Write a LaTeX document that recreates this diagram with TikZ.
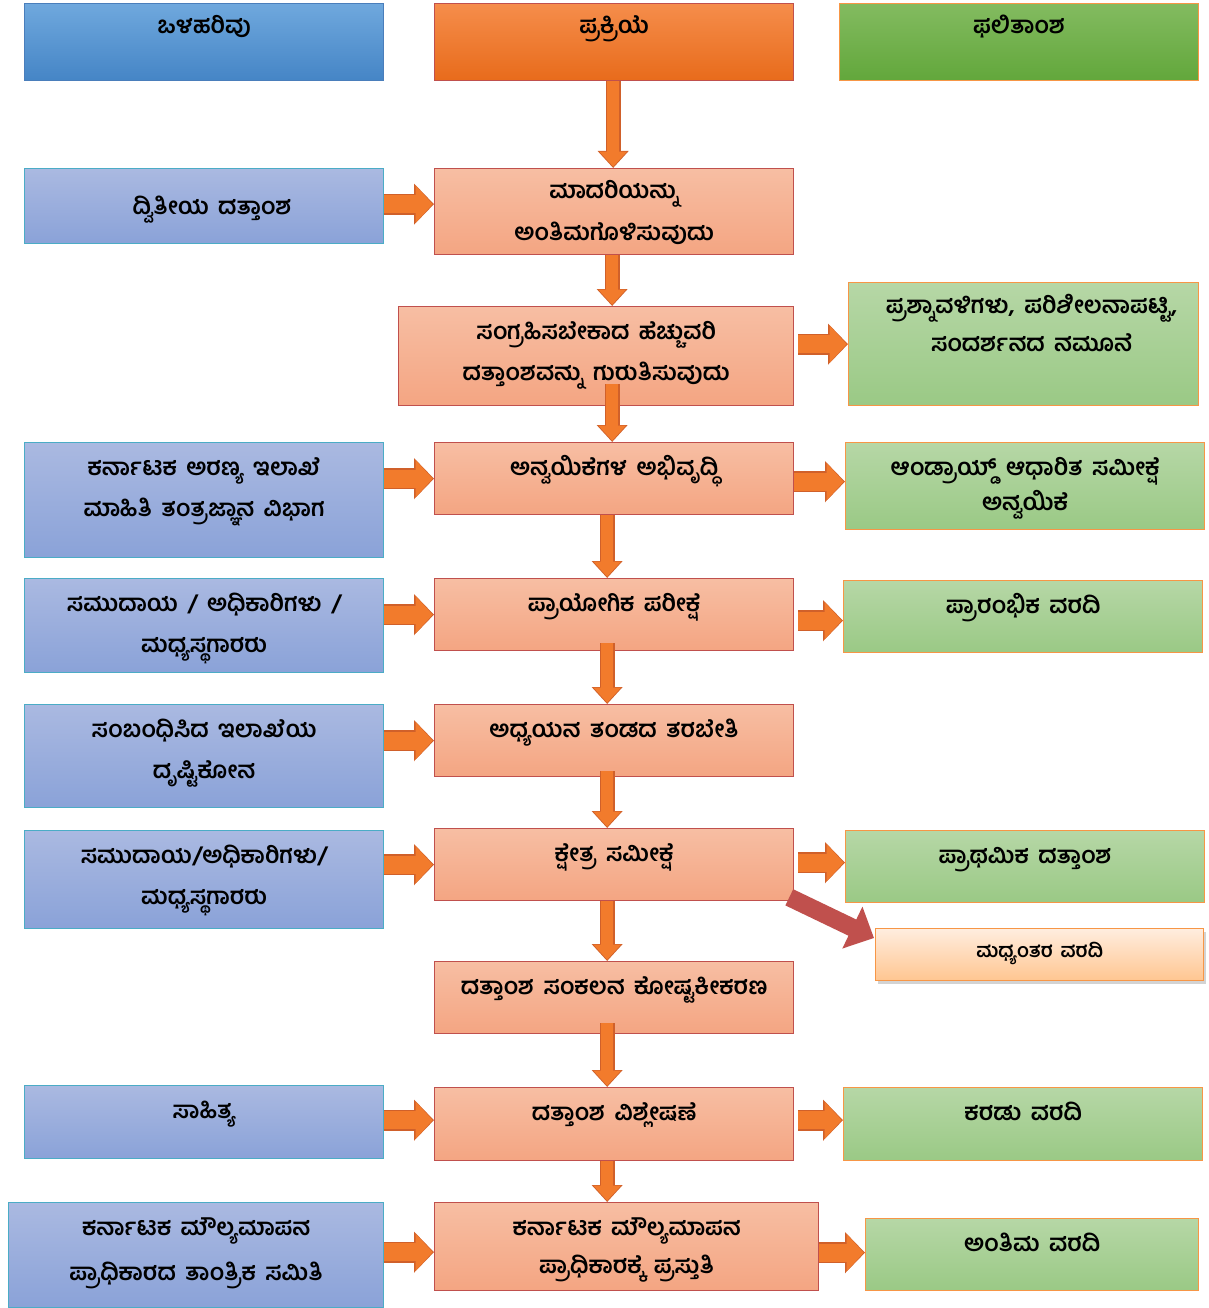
\documentclass[tikz,border=0pt]{standalone}
\usepackage{fontspec}
\newfontfamily\kn[Script=Kannada,WordSpace=1.6]{Hind Mysuru}
\usetikzlibrary{arrows.meta,calc,shadows}
\definecolor{hbA}{HTML}{6FA8DD}
\definecolor{hbB}{HTML}{4585C6}
\definecolor{hbL}{HTML}{4A7EBB}
\definecolor{hoA}{HTML}{F58D4B}
\definecolor{hoB}{HTML}{E86B1B}
\definecolor{hoL}{HTML}{C0504D}
\definecolor{hgA}{HTML}{83BB60}
\definecolor{hgB}{HTML}{62A73B}
\definecolor{hgL}{HTML}{F79646}
\definecolor{lbA}{HTML}{AAB9E1}
\definecolor{lbB}{HTML}{8AA2D8}
\definecolor{lbL}{HTML}{4BACC6}
\definecolor{csA}{HTML}{F7BEA3}
\definecolor{csB}{HTML}{F4A582}
\definecolor{csL}{HTML}{C0504D}
\definecolor{rgA}{HTML}{B6D7A6}
\definecolor{rgB}{HTML}{9AC985}
\definecolor{rgL}{HTML}{F79646}
\definecolor{mpA}{HTML}{FFEDDF}
\definecolor{mpB}{HTML}{FFC691}
\definecolor{arF}{HTML}{F27B2C}
\definecolor{arL}{HTML}{D0602A}
\definecolor{rdA}{HTML}{C0504D}
\newcommand\twoline[3][0pt]{\begin{tabular}[t]{@{}c@{}}#2\\[#1]#3\end{tabular}}
\tikzset{
  box/.style={rectangle, inner sep=0pt, line width=1.3pt, anchor=north west},
  hdrb/.style={box, top color=hbA, bottom color=hbB, draw=hbL},
  hdro/.style={box, top color=hoA, bottom color=hoB, draw=hoL},
  hdrg/.style={box, top color=hgA, bottom color=hgB, draw=hgL},
  inbox/.style={box, top color=lbA, bottom color=lbB, draw=lbL},
  procbox/.style={box, top color=csA, bottom color=csB, draw=csL},
  outbox/.style={box, top color=rgA, bottom color=rgB, draw=rgL},
  midbox/.style={box, top color=mpA, bottom color=mpB, draw=rgL,
    drop shadow={shadow xshift=2pt, shadow yshift=-3pt, opacity=.35}},
  txt/.style={font=\kn\bfseries\fontsize{23.5}{41}\selectfont, inner sep=0pt, anchor=base},
  harrO/.style={line width=21pt, draw=arL, -{Triangle[width=40pt,length=20pt]}},
  harrI/.style={line width=18pt, draw=arF, shorten >=1.3pt, -{Triangle[width=36pt,length=17pt]}},
  varrO/.style={line width=15pt, draw=arL, -{Triangle[width=30pt,length=17pt]}},
  varrI/.style={line width=12.5pt, draw=arF, shorten >=1.3pt, -{Triangle[width=26.5pt,length=15pt]}},
  rarr/.style={line width=18pt, draw=rdA, -{Triangle[width=45pt,length=24pt]}},
}
\newcommand\harr[2]{\draw[harrO] #1 -- #2; \draw[harrI] #1 -- #2;}
\newcommand\varr[2]{\draw[varrO] #1 -- #2; \draw[varrI] #1 -- #2;}
\begin{document}
\begin{tikzpicture}[x=1pt,y=-1pt]
\useasboundingbox (0,0) rectangle (1208,1308);
% headers
\node[hdrb, minimum width=359pt, minimum height=77pt] (HI) at (24,3) {};
\node[hdro, minimum width=359pt, minimum height=77pt] (HP) at (434,3) {};
\node[hdrg, minimum width=359pt, minimum height=77pt] (HO) at (839,3) {};
% left column
\node[inbox, minimum width=359pt, minimum height=75pt] (L1) at (24,168) {};
\node[inbox, minimum width=359pt, minimum height=115pt] (L2) at (24,442) {};
\node[inbox, minimum width=359pt, minimum height=94pt] (L3) at (24,578) {};
\node[inbox, minimum width=359pt, minimum height=103pt] (L4) at (24,704) {};
\node[inbox, minimum width=359pt, minimum height=98pt] (L5) at (24,830) {};
\node[inbox, minimum width=359pt, minimum height=73pt] (L6) at (24,1085) {};
\node[inbox, minimum width=375pt, minimum height=105pt] (L7) at (8,1202) {};
% centre column
\node[procbox, minimum width=359pt, minimum height=86pt] (C1) at (434,168) {};
\node[procbox, minimum width=395pt, minimum height=99pt] (C2) at (398,306) {};
\node[procbox, minimum width=359pt, minimum height=72pt] (C3) at (434,442) {};
\node[procbox, minimum width=359pt, minimum height=72pt] (C4) at (434,578) {};
\node[procbox, minimum width=359pt, minimum height=72pt] (C5) at (434,704) {};
\node[procbox, minimum width=359pt, minimum height=72pt] (C6) at (434,828) {};
\node[procbox, minimum width=359pt, minimum height=72pt] (C7) at (434,961) {};
\node[procbox, minimum width=359pt, minimum height=73pt] (C8) at (434,1087) {};
\node[procbox, minimum width=384pt, minimum height=88pt] (C9) at (434,1202) {};
% right column
\node[outbox, minimum width=350pt, minimum height=123pt] (R1) at (848,282) {};
\node[outbox, minimum width=359pt, minimum height=87pt] (R2) at (845,442) {};
\node[outbox, minimum width=359pt, minimum height=72pt] (R3) at (843,580) {};
\node[outbox, minimum width=359pt, minimum height=72pt] (R4) at (845,830) {};
\node[midbox, minimum width=328pt, minimum height=52pt] (M) at (875,928) {};
\node[outbox, minimum width=359pt, minimum height=73pt] (R6) at (843,1087) {};
\node[outbox, minimum width=333pt, minimum height=72pt] (R7) at (865,1218) {};
% texts
\node[txt] (tHI) at ([yshift=-31pt]HI.north) {ಒಳಹರಿವು};
\node[txt] (tHP) at ([yshift=-31pt]HP.north) {ಪ್ರಕ್ರಿಯೆ};
\node[txt] (tHO) at ([yshift=-31pt]HO.north) {ಫಲಿತಾಂಶ};
\node[txt] (tL1) at ([xshift=8pt,yshift=-46pt]L1.north) {ದ್ವಿತೀಯ ದತ್ತಾಂಶ};
\node[txt] (tL2) at ([yshift=-33pt]L2.north) {\twoline{ಕರ್ನಾಟಕ ಅರಣ್ಯ ಇಲಾಖೆ}{ಮಾಹಿತಿ ತಂತ್ರಜ್ಞಾನ ವಿಭಾಗ}};
\node[txt] (tL3) at ([yshift=-33pt]L3.north) {\twoline{ಸಮುದಾಯ / ಅಧಿಕಾರಿಗಳು /}{ಮಧ್ಯಸ್ಥಗಾರರು}};
\node[txt] (tL4) at ([yshift=-33pt]L4.north) {\twoline{ಸಂಬಂಧಿಸಿದ ಇಲಾಖೆಯ}{ದೃಷ್ಟಿಕೋನ}};
\node[txt] (tL5) at ([yshift=-33pt]L5.north) {\twoline{ಸಮುದಾಯ/ಅಧಿಕಾರಿಗಳು/}{ಮಧ್ಯಸ್ಥಗಾರರು}};
\node[txt] (tL6) at ([yshift=-33pt]L6.north) {ಸಾಹಿತ್ಯ};
\node[txt] (tL7) at ([yshift=-33pt]L7.north) {\twoline[4pt]{ಕರ್ನಾಟಕ ಮೌಲ್ಯಮಾಪನ}{ಪ್ರಾಧಿಕಾರದ ತಾಂತ್ರಿಕ ಸಮಿತಿ}};
\node[txt] (tC1) at ([yshift=-31pt]C1.north) {\twoline{ಮಾದರಿಯನ್ನು}{ಅಂತಿಮಗೊಳಿಸುವುದು}};
\node[txt] (tC2) at ([yshift=-33pt]C2.north) {\twoline{ಸಂಗ್ರಹಿಸಬೇಕಾದ ಹೆಚ್ಚುವರಿ}{ದತ್ತಾಂಶವನ್ನು ಗುರುತಿಸುವುದು}};
\node[txt] (tC3) at ([yshift=-33pt]C3.north) {ಅನ್ವಯಿಕೆಗಳ ಅಭಿವೃದ್ಧಿ};
\node[txt] (tC4) at ([yshift=-33pt]C4.north) {ಪ್ರಾಯೋಗಿಕ ಪರೀಕ್ಷೆ};
\node[txt] (tC5) at ([yshift=-33pt]C5.north) {ಅಧ್ಯಯನ ತಂಡದ ತರಬೇತಿ};
\node[txt] (tC6) at ([yshift=-33pt]C6.north) {ಕ್ಷೇತ್ರ ಸಮೀಕ್ಷೆ};
\node[txt] (tC7) at ([yshift=-33pt]C7.north) {ದತ್ತಾಂಶ ಸಂಕಲನ ಕೋಷ್ಟಕೀಕರಣ};
\node[txt] (tC8) at ([yshift=-33pt]C8.north) {ದತ್ತಾಂಶ ವಿಶ್ಲೇಷಣೆ};
\node[txt] (tC9) at ([yshift=-33pt]C9.north) {\twoline[-3pt]{ಕರ್ನಾಟಕ ಮೌಲ್ಯಮಾಪನ}{ಪ್ರಾಧಿಕಾರಕ್ಕೆ ಪ್ರಸ್ತುತಿ}};
\node[txt] (tR1) at ([xshift=8pt,yshift=-31pt]R1.north) {\twoline[-3pt]{ಪ್ರಶ್ನಾವಳಿಗಳು, ಪರಿಶೀಲನಾಪಟ್ಟಿ,}{ಸಂದರ್ಶನದ ನಮೂನೆ}};
\node[txt] (tR2) at ([yshift=-33pt]R2.north) {\twoline[-6pt]{ಆಂಡ್ರಾಯ್ಡ್ ಆಧಾರಿತ ಸಮೀಕ್ಷೆ}{ಅನ್ವಯಿಕೆ}};
\node[txt] (tR3) at ([yshift=-33pt]R3.north) {ಪ್ರಾರಂಭಿಕ ವರದಿ};
\node[txt] (tR4) at ([yshift=-33pt]R4.north) {ಪ್ರಾಥಮಿಕ ದತ್ತಾಂಶ};
\node[txt, font=\kn\bfseries\fontsize{19.5}{24}\selectfont] (tM) at ([yshift=-29pt]M.north) {ಮಧ್ಯಂತರ ವರದಿ};
\node[txt] (tR6) at ([yshift=-33pt]R6.north) {ಕರಡು ವರದಿ};
\node[txt] (tR7) at ([yshift=-33pt]R7.north) {ಅಂತಿಮ ವರದಿ};
% vertical arrows
\varr{([xshift=-1pt]HP.south)}{([xshift=-1pt]C1.north)}
\varr{([xshift=-2pt]C1.south)}{([xshift=-2pt]C1.south |- C2.north)}
\varr{([xshift=-2pt,yshift=22pt]C1.south |- C2.south)}{([xshift=-2pt]C3.north)}
\varr{([xshift=-7pt]C3.south)}{([xshift=-7pt]C4.north)}
\varr{([xshift=-7pt,yshift=8pt]C4.south)}{([xshift=-7pt]C5.north)}
\varr{([xshift=-7pt,yshift=6pt]C5.south)}{([xshift=-7pt]C6.north)}
\varr{([xshift=-7pt]C6.south)}{([xshift=-7pt]C7.north)}
\varr{([xshift=-7pt,yshift=11pt]C7.south)}{([xshift=-7pt]C8.north)}
\varr{([xshift=-7pt]C8.south)}{([xshift=-7pt]C8.south |- C9.north)}
% left-to-centre arrows
\harr{([yshift=2pt]L1.east)}{([yshift=2pt]L1.east -| C1.west)}
\harr{(L2.east |- C3.west)}{(C3.west)}
\harr{(L3.east |- C4.west)}{(C4.west)}
\harr{(L4.east |- C5.west)}{(C5.west)}
\harr{(L5.east |- C6.west)}{(C6.west)}
\harr{([yshift=2pt]L6.east)}{([yshift=2pt]L6.east -| C8.west)}
\harr{([yshift=3pt]L7.east)}{([yshift=3pt]L7.east -| C9.west)}
% centre-to-right arrows
\harr{([xshift=4pt]C2.east |- R1.west)}{(R1.west)}
\harr{([yshift=-3pt]C3.east)}{([yshift=-3pt]C3.east -| R2.west)}
\harr{([xshift=4pt,yshift=-4pt]C4.east |- R3.west)}{([yshift=-4pt]R3.west)}
\harr{([xshift=4pt,yshift=2pt]C6.east)}{([yshift=2pt]C6.east -| R4.west)}
\harr{([xshift=4pt,yshift=4pt]C8.east)}{([yshift=4pt]C8.east -| R6.west)}
\harr{([yshift=2pt]C9.east |- R7.west)}{([yshift=2pt]R7.west)}
% diagonal arrow
\draw[rarr] ([xshift=-5pt,yshift=4pt]C6.south east) -- ([xshift=-1pt,yshift=-10pt]M.north west);
\end{tikzpicture}
\end{document}
